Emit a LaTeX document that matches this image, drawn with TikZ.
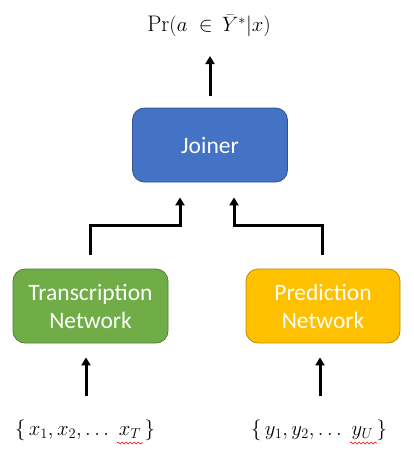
\documentclass[tikz,border=0pt]{standalone}
\usepackage{fontspec}
\newfontfamily\boxfont{Carlito}
\usetikzlibrary{arrows.meta,decorations.pathmorphing}
\definecolor{joinfill}{HTML}{4472C4}
\definecolor{joinline}{HTML}{2F528F}
\definecolor{transfill}{HTML}{70AD47}
\definecolor{transline}{HTML}{507E32}
\definecolor{predfill}{HTML}{FFC000}
\definecolor{predline}{HTML}{BC8C00}
\tikzset{
  blockbox/.style={rounded corners=12pt, line width=0.8pt, minimum width=155pt, minimum height=74pt,
    align=center, text=white, font=\boxfont\fontsize{23.5}{28}\selectfont, inner sep=0pt},
  conn/.style={line width=3pt, -{Triangle[length=8pt,width=9pt]}},
  mathlabel/.style={font=\fontsize{21}{25}\selectfont, inner sep=0pt},
  squig/.style={red, line width=0.6pt, decorate, decoration={snake, amplitude=1pt, segment length=4pt}}
}
\begin{document}
\begin{tikzpicture}[x=1pt,y=-1pt]
\useasboundingbox (0,0) rectangle (414,459);
\node[blockbox, fill=joinfill, draw=joinline] (joiner) at (210,145) {Joiner};
\node[blockbox, fill=transfill, draw=transline] (trans) at (90.5,306) {Transcription\\Network};
\node[blockbox, fill=predfill, draw=predline, minimum width=154pt] (pred) at (323,306) {Prediction\\Network};
\node[mathlabel, font=\fontsize{22.5}{27}\selectfont] (out) at (209,26) {$\Pr(a\;\in\,\bar{Y}^{*}|x)$};
\node[mathlabel] (xin) at (85,430) {$\{\,x_1, x_2, \ldots\ x_T\,\}$};
\node[mathlabel] (yin) at (319,430) {$\{\,y_1, y_2, \ldots\ y_U\,\}$};
\coordinate (jl) at ([xshift=-30pt]joiner.south);
\coordinate (jr) at ([xshift=24pt]joiner.south);
\coordinate (outtip) at (joiner.north |- 0,56);
\coordinate (xa) at (86,396);
\coordinate (ya) at (320,396);
\draw[conn, shorten <=14pt, shorten >=15pt] (trans.north) -- ++(0,-43) -| (jl);
\draw[conn, shorten <=14pt, shorten >=15pt] ([xshift=-1pt]pred.north) -- ++(0,-43) -| (jr);
\draw[conn, shorten <=12pt] (joiner.north) -- (outtip);
\draw[conn, shorten >=14pt] (xa) -- (xa |- trans.south);
\draw[conn, shorten >=14pt] (ya) -- (ya |- pred.south);
\draw[squig] (117,443) -- (143,443);
\draw[squig] (350,443) -- (377,443);
\end{tikzpicture}
\end{document}
